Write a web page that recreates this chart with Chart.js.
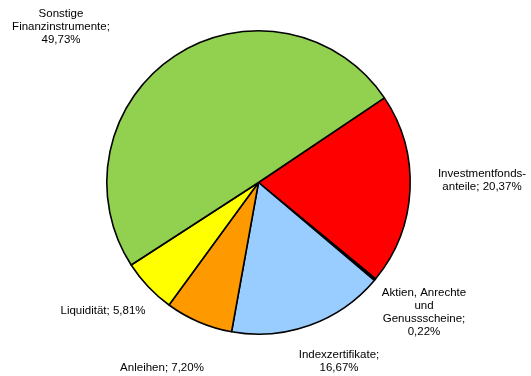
<!DOCTYPE html>
<html>
<head>
<meta charset="utf-8">
<script src="https://cdn.jsdelivr.net/npm/chart.js@4/dist/chart.umd.min.js"></script>
<style>
  html, body { margin: 0; padding: 0; background: #fff; }
  #depot { display: block; }
</style>
</head>
<body>
<canvas id="depot" width="531" height="376"></canvas>
<script>
// Depotstruktur in Prozent
var categories = [
    ['Investmentfonds-', 'anteile'],
    ['Aktien, Anrechte', 'und', 'Genussscheine'],
    ['Indexzertifikate'],
    ['Anleihen'],
    ['Liquidität'],
    ['Sonstige', 'Finanzinstrumente']
];
var shares = [20.37, 0.22, 16.67, 7.20, 5.81, 49.73];
var colors = ['#FF0000', '#000000', '#99CCFF', '#FF9900', '#FFFF00', '#92D050'];

// where each label block sits (centre x, first line y) and whether the value gets its own line
var labelSpots = [
    { x: 482, y: 174, own: false },
    { x: 424, y: 293, own: true },
    { x: 339, y: 355, own: true },
    { x: 162, y: 368, own: false },
    { x: 103, y: 311, own: false },
    { x: 61,  y: 14,  own: true }
];

function pct(v) {
    return v.toFixed(2).replace('.', ',') + '%';
}

var outsideLabels = {
    id: 'outsideLabels',
    afterDatasetsDraw: function(chart) {
        var c = chart.ctx;
        c.save();
        c.font = '11.5px "Liberation Sans", Arial, sans-serif';
        c.fillStyle = '#000';
        c.textAlign = 'center';
        c.textBaseline = 'middle';
        chart.data.labels.forEach(function(lines, i) {
            var spot = labelSpots[i];
            var value = chart.data.datasets[0].data[i];
            var out = lines.slice();
            if (spot.own) {
                out[out.length - 1] += ';';
                out.push(pct(value));
            } else {
                out[out.length - 1] += '; ' + pct(value);
            }
            out.forEach(function(t, k) {
                c.fillText(t, spot.x, spot.y + k * 13);
            });
        });
        c.restore();
    }
};

var ctx = document.getElementById('depot').getContext('2d');
var depotChart = new Chart(ctx, {
    type: 'pie',
    data: {
        labels: categories,
        datasets: [{
            data: shares,
            backgroundColor: colors,
            borderColor: '#000000',
            borderWidth: 1.6
        }]
    },
    options: {
        responsive: false,
        animation: false,
        rotation: 56.1,
        layout: {
            padding: { left: 106, right: 120, top: 30, bottom: 41 }
        },
        plugins: {
            legend: { display: false },
            tooltip: { enabled: false }
        }
    },
    plugins: [outsideLabels]
});
</script>
</body>
</html>
